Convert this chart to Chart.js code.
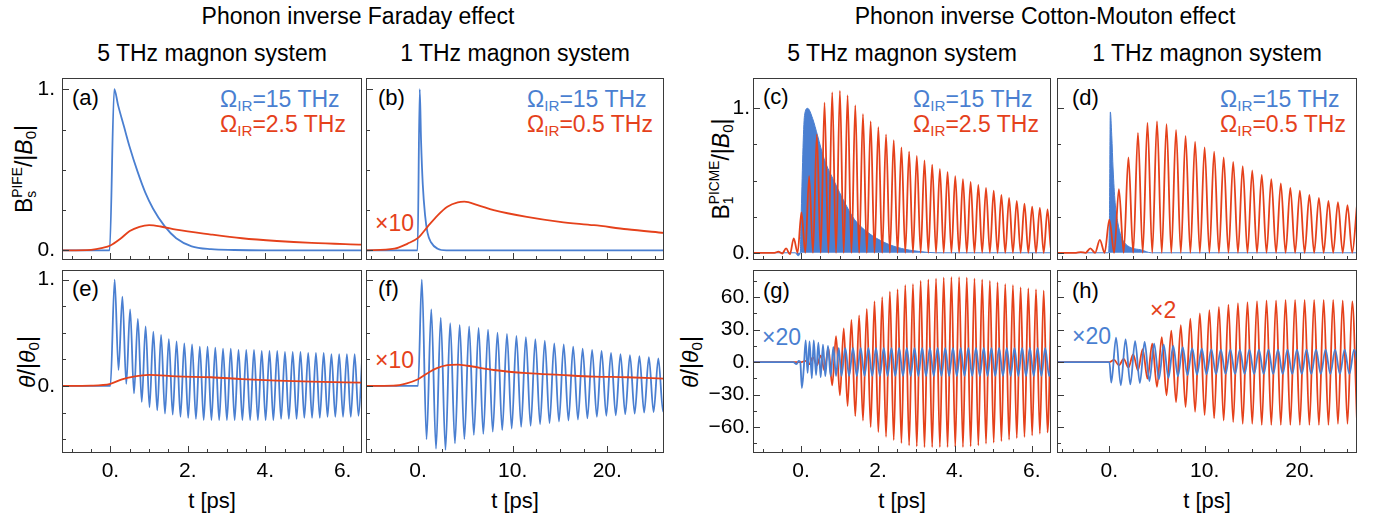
<!DOCTYPE html>
<html>
<head>
<meta charset="utf-8">
<script src="https://cdn.jsdelivr.net/npm/chart.js@4.4.0/dist/chart.umd.min.js"></script>
<style>
  html, body { margin: 0; padding: 0; background: #fff; }
  #fig { position: relative; width: 1380px; height: 519px; overflow: hidden;
         font-family: "Liberation Sans", Arial, sans-serif; color: #000; }
  #fig canvas { position: absolute; }
  .t { position: absolute; white-space: nowrap; line-height: 1; }
  .c { transform: translate(-50%, -50%); }
  .m { transform: translateY(-50%); }
  .hd { font-size: 23px; }
  .lab { font-size: 22px; }
  .leg { font-size: 23px; }
  .blue { color: #4a7fd1; }
  .red { color: #e5411b; }
  .ir { font-size: 0.66em; position: relative; top: 0.25em; }
  .rot { font-size: 23px; transform: translate(-50%, -50%) rotate(-90deg); }
  .ss { display: inline-block; font-size: 0.6em; line-height: 1; vertical-align: -0.3em; }
  .ss span { display: block; }
  .s0 { font-size: 0.66em; position: relative; top: 0.28em; }
</style>
</head>
<body>
<div id="fig">
  <div class="t c hd" style="left:358px;top:16px">Phonon inverse Faraday effect</div>
  <div class="t c hd" style="left:1045px;top:16px">Phonon inverse Cotton-Mouton effect</div>
  <div class="t c hd" style="left:212px;top:53px">5 THz magnon system</div>
  <div class="t c hd" style="left:515px;top:53px">1 THz magnon system</div>
  <div class="t c hd" style="left:902px;top:53px">5 THz magnon system</div>
  <div class="t c hd" style="left:1207px;top:53px">1 THz magnon system</div>

  <div class="t rot" style="left:25px;top:169px">B<span class="ss"><span>PIFE</span><span>s</span></span>/|<i>B</i><span class="s0">0</span>|</div>
  <div class="t rot" style="left:27px;top:362px"><i>θ</i>/|<i>θ</i><span class="s0">0</span>|</div>
  <div class="t rot" style="left:722px;top:169px">B<span class="ss"><span>PICME</span><span>1</span></span>/|<i>B</i><span class="s0">0</span>|</div>
  <div class="t rot" style="left:690px;top:362px"><i>θ</i>/|<i>θ</i><span class="s0">0</span>|</div>

  <div class="t m lab" style="left:72px;top:98px">(a)</div>
  <div class="t m lab" style="left:378px;top:98px">(b)</div>
  <div class="t m lab" style="left:763px;top:97px">(c)</div>
  <div class="t m lab" style="left:1072px;top:98px">(d)</div>
  <div class="t m lab" style="left:72px;top:289px">(e)</div>
  <div class="t m lab" style="left:378px;top:289px">(f)</div>
  <div class="t m lab" style="left:763px;top:291px">(g)</div>
  <div class="t m lab" style="left:1072px;top:291px">(h)</div>

  <div class="t m leg blue" style="left:220px;top:99px">Ω<span class="ir">IR</span>=15 THz</div>
  <div class="t m leg red" style="left:220px;top:124px">Ω<span class="ir">IR</span>=2.5 THz</div>
  <div class="t m leg blue" style="left:527px;top:99px">Ω<span class="ir">IR</span>=15 THz</div>
  <div class="t m leg red" style="left:527px;top:124px">Ω<span class="ir">IR</span>=0.5 THz</div>
  <div class="t m leg blue" style="left:913px;top:99px">Ω<span class="ir">IR</span>=15 THz</div>
  <div class="t m leg red" style="left:913px;top:124px">Ω<span class="ir">IR</span>=2.5 THz</div>
  <div class="t m leg blue" style="left:1220px;top:99px">Ω<span class="ir">IR</span>=15 THz</div>
  <div class="t m leg red" style="left:1220px;top:124px">Ω<span class="ir">IR</span>=0.5 THz</div>

  <div class="t m leg red" style="left:375px;top:223px">×10</div>
  <div class="t m leg red" style="left:375px;top:360px">×10</div>
  <div class="t m leg blue" style="left:762px;top:337px">×20</div>
  <div class="t m leg blue" style="left:1072px;top:336px">×20</div>
  <div class="t m leg red" style="left:1150px;top:310px">×2</div>

  <div class="t c lab" style="left:212px;top:501px">t [ps]</div>
  <div class="t c lab" style="left:515px;top:501px">t [ps]</div>
  <div class="t c lab" style="left:902px;top:501px">t [ps]</div>
  <div class="t c lab" style="left:1207px;top:501px">t [ps]</div>
</div>
<script>
const BLUE = "#4a7fd1";
const RED = "#e5411b";

// axis ticks
const xTicks5 = [-1, -0.5, 0, 0.5, 1, 1.5, 2, 2.5, 3, 3.5, 4, 4.5, 5, 5.5, 6];
const xMajor5 = [0, 2, 4, 6];
const xTicks1 = [-5, -2.5, 0, 2.5, 5, 7.5, 10, 12.5, 15, 17.5, 20, 22.5, 25];
const xMajor1 = [0, 10, 20];
const yTicksB = [0, 0.25, 0.5, 0.75, 1];
const yMajorB = [0, 1];
const yTicksTh = [-0.5, -0.25, 0, 0.25, 0.5, 0.75, 1];
const yMajorTh = [0, 1];
const yTicksDeg = [-75, -60, -45, -30, -15, 0, 15, 30, 45, 60, 75];
const yMajorDeg = [-60, -30, 0, 30, 60];

// (a) PIFE field, 5 THz magnon
const aBlueT = [-1.25, -0.02, 0.1, 0.2, 0.35, 0.5, 0.7, 0.9, 1.1, 1.4, 1.7, 2.1, 2.6, 3.2, 4.0, 6.5];
const aBlueV = [0, 0, 1.0, 0.9, 0.77, 0.64, 0.49, 0.36, 0.26, 0.15, 0.075, 0.025, 0.007, 0.002, 0, 0];
const aRedT = [-1.25, -0.5, -0.2, 0, 0.25, 0.5, 0.75, 1.0, 1.3, 1.7, 2.6, 3.4, 4.3, 5.2, 6.5];
const aRedV = [0, 0.003, 0.015, 0.03, 0.07, 0.12, 0.146, 0.156, 0.148, 0.128, 0.098, 0.075, 0.058, 0.046, 0.035];

// (b) PIFE field, 1 THz magnon (red x10)
const bBlueT = [-5.5, -0.05, 0.18, 0.32, 0.5, 0.74, 1.0, 1.37, 2.07, 3.0, 26];
const bBlueV = [0, 0, 1.0, 0.68, 0.41, 0.22, 0.11, 0.05, 0.01, 0, 0];
const bRedT = [-5.5, -2.5, -1.1, 0, 1.0, 2.1, 3.1, 4.2, 4.9, 6.3, 8.0, 11.5, 15.0, 18.6, 22.1, 26];
const bRedV = [0, 0.01, 0.042, 0.077, 0.146, 0.219, 0.271, 0.298, 0.302, 0.281, 0.25, 0.208, 0.177, 0.156, 0.131, 0.108];

// (c) PICME field, 5 THz magnon
const cBlueT = [-1.25, -0.15, -0.08, -0.02, 0, 0.09, 0.17, 0.3, 0.43, 0.6, 0.87, 1.13, 1.39, 1.74, 2.18, 2.61, 3.05, 3.5, 6.5];
const cBlueV = [0, 0, -0.02, 0, 0.23, 0.95, 1.0, 0.93, 0.81, 0.65, 0.49, 0.35, 0.23, 0.14, 0.07, 0.03, 0.01, 0, 0];
const cRedLeadT = [-1.25, -0.69];
const cRedLeadV = [0, 0];
const cRedStart = -0.59, cRedStep = 0.1;
const cRedV = [0.008, -0.005, 0.03, -0.01, 0.1, 0, 0.28, 0, 0.53, 0, 0.82, 0, 1.04, 0, 1.11, 0, 1.12, 0,
  1.09, 0, 1.02, 0, 0.96, 0, 0.91, 0, 0.87, 0, 0.82, 0, 0.78, 0, 0.73, 0, 0.7, 0, 0.67, 0, 0.64, 0,
  0.61, 0, 0.58, 0, 0.56, 0, 0.53, 0, 0.51, 0, 0.49, 0, 0.47, 0, 0.45, 0, 0.43, 0, 0.4, 0, 0.38, 0,
  0.36, 0, 0.34, 0, 0.32, 0, 0.31, 0, 0.3, 0, 0.29];

// (d) PICME field, 1 THz magnon
const dBlueT = [-5.5, -0.1, 0, 0.1, 0.25, 0.39, 0.6, 0.88, 1.23, 1.58, 2.28, 3.33, 4.4, 26];
const dBlueV = [0, 0, 0.2, 0.975, 0.81, 0.58, 0.35, 0.21, 0.115, 0.07, 0.035, 0.02, 0, 0];
const dRedLeadT = [-5.5, -3.5];
const dRedLeadV = [0, 0];
const dRedStart = -3.0, dRedStep = 0.5;
const dRedV = [0.005, 0, 0.03, 0, 0.09, 0, 0.23, 0, 0.44, 0, 0.66, 0, 0.83, 0, 0.9, 0, 0.91, 0, 0.89, 0,
  0.85, 0, 0.81, 0, 0.77, 0, 0.73, 0, 0.7, 0, 0.66, 0, 0.63, 0, 0.6, 0, 0.57, 0, 0.54, 0, 0.51, 0,
  0.48, 0, 0.45, 0, 0.43, 0, 0.4, 0, 0.38, 0, 0.36, 0, 0.35, 0, 0.33, 0, 0.33];

// (e) theta, PIFE, 5 THz magnon
const eBlueLeadT = [-1.25, 0.0];
const eBlueLeadV = [0, 0];
const eBlueStart = 0.11, eBlueStep = 0.1;
const eBlueV = [1.0, 0.15, 0.84, 0.02, 0.72, -0.07, 0.63, -0.15, 0.56, -0.2, 0.51, -0.23, 0.48, -0.26,
  0.44, -0.27, 0.42, -0.29, 0.4, -0.3, 0.39, -0.31, 0.37, -0.32, 0.37, -0.32, 0.36, -0.32, 0.35, -0.32,
  0.35, -0.32, 0.34, -0.32, 0.34, -0.32, 0.34, -0.32, 0.33, -0.32, 0.33, -0.32, 0.33, -0.31, 0.32, -0.31,
  0.32, -0.31, 0.32, -0.3, 0.31, -0.3, 0.31, -0.3, 0.31, -0.29, 0.3, -0.29, 0.3, -0.29, 0.3, -0.29,
  0.3, -0.28, 0.3];
const eRedT = [-1.25, -0.5, 0, 0.3, 0.6, 1.0, 1.7, 2.6, 3.4, 4.3, 5.2, 6.5];
const eRedV = [0, 0.003, 0.02, 0.063, 0.088, 0.104, 0.09, 0.082, 0.065, 0.05, 0.04, 0.032];

// (f) theta, PIFE, 1 THz magnon (red x10)
const fBlueLeadT = [-5.5, 0.0];
const fBlueLeadV = [0, 0];
const fBlueStart = 0.4, fBlueStep = 0.5;
const fBlueV = [1.0, -0.5, 0.72, -0.59, 0.64, -0.6, 0.59, -0.54, 0.575, -0.5, 0.56, -0.46, 0.545, -0.45,
  0.53, -0.43, 0.5, -0.415, 0.49, -0.4, 0.47, -0.385, 0.46, -0.375, 0.44, -0.36, 0.425, -0.35, 0.4, -0.335,
  0.39, -0.325, 0.37, -0.315, 0.35, -0.305, 0.34, -0.29, 0.33, -0.28, 0.31, -0.275, 0.3, -0.265, 0.29, -0.26,
  0.28, -0.25, 0.27, -0.245, 0.26, -0.24, 0.25];
const fRedT = [-5.5, -2.6, -1.2, 0, 1.0, 2.0, 3.1, 4.2, 5.2, 8.0, 11.5, 15.0, 18.6, 22.1, 26];
const fRedV = [0, 0.003, 0.025, 0.063, 0.12, 0.167, 0.195, 0.2, 0.19, 0.15, 0.12, 0.104, 0.088, 0.082, 0.069];

// (g) theta, PICME, 5 THz magnon (blue x20)
const gBlueLeadT = [-1.25, -0.2, -0.12, -0.06, -0.02, 0.02, 0.07, 0.12, 0.17, 0.22, 0.28, 0.33, 0.39,
  0.45, 0.51, 0.57, 0.63, 0.7, 0.77, 0.84, 0.91, 0.98];
const gBlueLeadV = [0, 0, -2, 1, 0, -24, -6, 20, -10, 19, -15, 20, -12, 18, -14, 16, -13, 15, -13, 14, -13, 13];
const gBlueStart = 1.05, gBlueStep = 0.1;
const gBlueV = [-13, 13, -13, 13, -13, 13, -13, 13, -13, 13, -13, 13, -13, 13, -13, 13, -13, 13, -13, 13,
  -13, 13, -13, 13, -13, 13, -13, 13, -13, 13, -13, 13, -13, 13, -13, 13, -13, 13, -13, 13,
  -13, 13, -13, 13, -13, 13, -13, 13, -13, 13, -13, 13, -13, 13, -13, 13];
const gRedLeadT = [-1.25, -0.19];
const gRedLeadV = [0, 0];
const gRedStart = -0.09, gRedStep = 0.1;
const gRedV = [0, 0, 1, -2, 4.6, -3, 6, -8, 13, -21.5, 24, -30.8, 31, -40.6, 39, -50, 43, -54, 49, -60,
  56, -64.6, 60, -69, 65, -72, 67, -74.8, 71, -77, 72, -77.8, 75, -78.5, 76, -78.5, 77, -78.5, 78, -78.5,
  78.5, -78.5, 78.5, -78.5, 78, -77.8, 77, -77, 76, -75.4, 75, -74.5, 73.5, -73, 72, -71.7, 71, -70.2,
  69, -69.2, 68, -67.7, 67, -66.2, 66, -65, 65];

// (h) theta, PICME, 1 THz magnon (blue x20, red x2)
const hBlueLeadT = [-5.5, 0.0];
const hBlueLeadV = [0, 0];
const hBlueStart = 0.2, hBlueStep = 0.5;
const hBlueV = [-19, 22.5, -21.5, 21, -20.6, 19.4, -19.4, 18.5, -17.5, 17, -16, 16, -14.5, 14.8, -13.2, 13.8,
  -12.3, 12.9, -11.7, 12.3, -11.4, 11.7, -11.2, 11.4, -11, 11.4, -11, 11.4, -11, 11.4, -11, 11.4,
  -11, 11.4, -11, 11.4, -11, 11.4, -11, 11.4, -11, 11.4, -11, 11.4, -11, 11.4, -11, 11.4, -11, 11.4,
  -11, 11.4, -11];
const hRedLeadT = [-5.5, -0.5];
const hRedLeadV = [0, 0];
const hRedStart = 0, hRedStep = 0.5;
const hRedV = [0, 2, -3, 3, -5, 7, -7.7, 12, -15.4, 17, -23, 23, -30.8, 29, -37, 34, -41.5, 40, -46, 45,
  -49, 48, -52, 51, -54, 53, -55.4, 54.5, -57, 55.4, -57, 56.3, -58, 57, -58, 57, -58, 57.5, -58, 57.5,
  -58, 57.5, -58, 57.5, -58, 57.5, -58, 57.5, -57, 57, -57, 56, -55];

Chart.defaults.font.family = '"Liberation Sans", Arial, sans-serif';

function pts(t, v) {
  return t.map((x, i) => ({ x: x, y: v[i] }));
}
function grid(t0, dt, v) {
  return v.map((y, i) => ({ x: +(t0 + i * dt).toFixed(4), y: y }));
}
function fmt(v) {
  return (v < 0 ? "\u2212" + Math.abs(v) : String(v)) + ".";
}
function line(data, color, fill) {
  return {
    data: data,
    borderColor: color,
    backgroundColor: color,
    borderWidth: fill ? 1 : 1.8,
    fill: fill ? "origin" : false,
    pointRadius: 0,
    cubicInterpolationMode: "monotone",
  };
}

const fig = document.getElementById("fig");

function panel(box, xs, ys, datasets, showX, showY, yPad) {
  const padL = showY ? 64 : 4, padB = showX ? 36 : 4, padT = 3, padR = 3;
  const w = box.r - box.l + padL + padR, h = box.b - box.t + padT + padB;
  const cv = document.createElement("canvas");
  cv.width = w; cv.height = h;
  cv.style.left = (box.l - padL) + "px";
  cv.style.top = (box.t - padT) + "px";
  cv.style.width = w + "px";
  cv.style.height = h + "px";
  fig.appendChild(cv);

  const frame = {
    id: "frame",
    afterDatasetsDraw(chart) {
      const { ctx, chartArea: a, scales } = chart;
      ctx.save();
      ctx.strokeStyle = "#3a3a3a";
      ctx.lineWidth = 1;
      ctx.strokeRect(a.left + 0.5, a.top + 0.5, a.right - a.left - 1, a.bottom - a.top - 1);
      ctx.beginPath();
      scales.x.ticks.forEach(tk => {
        const px = Math.round(scales.x.getPixelForValue(tk.value)) + 0.5;
        const len = xs.major.includes(tk.value) ? 7 : 4;
        ctx.moveTo(px, a.bottom);
        ctx.lineTo(px, a.bottom - len);
      });
      scales.y.ticks.forEach(tk => {
        const py = Math.round(scales.y.getPixelForValue(tk.value)) + 0.5;
        const len = ys.major.includes(tk.value) ? 7 : 4;
        ctx.moveTo(a.left, py);
        ctx.lineTo(a.left + len, py);
      });
      ctx.stroke();
      ctx.restore();
    },
  };

  return new Chart(cv, {
    type: "line",
    data: { datasets: datasets },
    options: {
      responsive: false,
      animation: false,
      layout: { padding: { left: 0, top: padT, right: padR, bottom: 0 } },
      plugins: { legend: { display: false }, tooltip: { enabled: false } },
      scales: {
        x: {
          type: "linear", min: xs.min, max: xs.max,
          grid: { display: false, drawTicks: false }, border: { display: false },
          afterBuildTicks: s => { s.ticks = xs.ticks.map(v => ({ value: v })); },
          afterFit: s => { s.height = padB; s.paddingLeft = 0; s.paddingRight = 0; },
          ticks: {
            display: showX, autoSkip: false, maxRotation: 0, padding: 6, color: "#000",
            font: { size: 21 },
            callback: v => xs.major.includes(v) ? fmt(v) : "",
          },
        },
        y: {
          type: "linear", min: ys.min, max: ys.max,
          grid: { display: false, drawTicks: false }, border: { display: false },
          afterBuildTicks: s => { s.ticks = ys.ticks.map(v => ({ value: v })); },
          afterFit: s => { s.width = padL; s.paddingTop = 0; s.paddingBottom = 0; },
          ticks: {
            display: showY, autoSkip: false, padding: yPad || 6, color: "#000",
            font: { size: 21 },
            callback: v => ys.major.includes(v) ? fmt(v) : "",
          },
        },
      },
    },
    plugins: [frame],
  });
}

const x5 = { min: -1.25, max: 6.5, ticks: xTicks5, major: xMajor5 };
const x1 = { min: -5.5, max: 26, ticks: xTicks1, major: xMajor1 };
const yAB = { min: -0.06, max: 1.07, ticks: yTicksB, major: yMajorB };
const yCD = { min: -0.05, max: 1.21, ticks: yTicksB, major: yMajorB };
const yEF = { min: -0.63, max: 1.09, ticks: yTicksTh, major: yMajorTh };
const yGH = { min: -84, max: 85, ticks: yTicksDeg, major: yMajorDeg };

const top0 = 78, top1 = 260, bot0 = 270, bot1 = 453;
const colA = { l: 62, r: 362 }, colB = { l: 366, r: 664 }, colC = { l: 753, r: 1051 }, colD = { l: 1057, r: 1357 };

panel({ ...colA, t: top0, b: top1 }, x5, yAB, [
  line(pts(aRedT, aRedV), RED),
  line(pts(aBlueT, aBlueV), BLUE),
], false, true, 7);

panel({ ...colB, t: top0, b: top1 }, x1, yAB, [
  line(pts(bRedT, bRedV), RED),
  line(pts(bBlueT, bBlueV), BLUE),
], false, false);

panel({ ...colC, t: top0, b: top1 }, x5, yCD, [
  line(pts(cRedLeadT, cRedLeadV).concat(grid(cRedStart, cRedStep, cRedV)), RED),
  line(pts(cBlueT, cBlueV), BLUE, true),
], false, true, 3);

panel({ ...colD, t: top0, b: top1 }, x1, yCD, [
  line(pts(dRedLeadT, dRedLeadV).concat(grid(dRedStart, dRedStep, dRedV)), RED),
  line(pts(dBlueT, dBlueV), BLUE, true),
], false, false);

panel({ ...colA, t: bot0, b: bot1 }, x5, yEF, [
  line(pts(eRedT, eRedV), RED),
  line(pts(eBlueLeadT, eBlueLeadV).concat(grid(eBlueStart, eBlueStep, eBlueV)), BLUE),
], true, true, 7);

panel({ ...colB, t: bot0, b: bot1 }, x1, yEF, [
  line(pts(fRedT, fRedV), RED),
  line(pts(fBlueLeadT, fBlueLeadV).concat(grid(fBlueStart, fBlueStep, fBlueV)), BLUE),
], true, false);

panel({ ...colC, t: bot0, b: bot1 }, x5, yGH, [
  line(pts(gBlueLeadT, gBlueLeadV).concat(grid(gBlueStart, gBlueStep, gBlueV)), BLUE),
  line(pts(gRedLeadT, gRedLeadV).concat(grid(gRedStart, gRedStep, gRedV)), RED),
], true, true, 3);

panel({ ...colD, t: bot0, b: bot1 }, x1, yGH, [
  line(pts(hBlueLeadT, hBlueLeadV).concat(grid(hBlueStart, hBlueStep, hBlueV)), BLUE),
  line(pts(hRedLeadT, hRedLeadV).concat(grid(hRedStart, hRedStep, hRedV)), RED),
], true, false);
</script>
</body>
</html>
